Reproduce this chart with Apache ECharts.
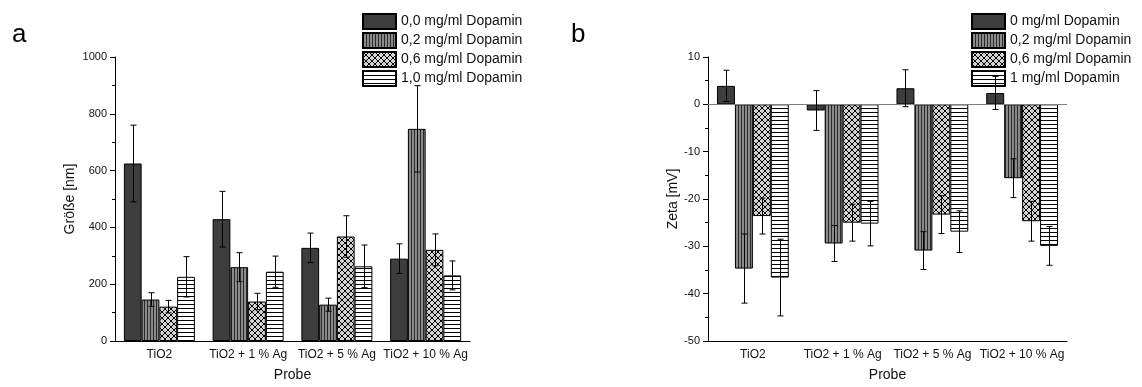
<!DOCTYPE html>
<html>
<head>
<meta charset="utf-8">
<script src="https://cdn.jsdelivr.net/npm/echarts@6/dist/echarts.min.js"></script>
<style>
  html, body { margin: 0; padding: 0; background: #fff; }
  #chart { width: 1142px; height: 387px; }
</style>
</head>
<body>
<div id="chart"></div>
<script>
// categories (same for both panels)
const probes = ["TiO2", "TiO2 + 1 % Ag", "TiO2 + 5 % Ag", "TiO2 + 10 % Ag"];

// panel a: particle size [nm]
const sizeNames = ["0,0 mg/ml Dopamin", "0,2 mg/ml Dopamin", "0,6 mg/ml Dopamin", "1,0 mg/ml Dopamin"];
const size00 = [625, 429, 328, 290];
const size02 = [146, 260, 128, 747];
const size06 = [121, 139, 368, 321];
const size10 = [226, 244, 263, 231];
const sizeErr00 = [135, 98, 52, 52];
const sizeErr02 = [24, 51, 23, 152];
const sizeErr06 = [22, 29, 73, 56];
const sizeErr10 = [71, 55, 75, 51];

// panel b: zeta potential [mV]
const zetaNames = ["0 mg/ml Dopamin", "0,2 mg/ml Dopamin", "0,6 mg/ml Dopamin", "1 mg/ml Dopamin"];
const zeta00 = [3.9, -1.3, 3.4, 2.4];
const zeta02 = [-34.7, -29.4, -30.9, -15.6];
const zeta06 = [-23.6, -25.0, -23.3, -24.7];
const zeta10 = [-36.6, -25.2, -26.9, -29.9];
const zetaErr00 = [3.3, 4.2, 3.9, 3.5];
const zetaErr02 = [7.3, 3.8, 4.0, 4.1];
const zetaErr06 = [3.8, 3.9, 4.0, 4.2];
const zetaErr10 = [8.1, 4.7, 4.4, 4.1];

const font = "'Liberation Sans', Arial, sans-serif";

// kleine Kacheln für die Schraffuren
function tile(w, h, draw) {
    const c = document.createElement("canvas");
    c.width = w; c.height = h;
    draw(c.getContext("2d"));
    return { image: c, repeat: "repeat" };
}
const fills = [
    "#3d3d3d",
    tile(3, 1, (g) => { g.fillStyle = "#8a8a8a"; g.fillRect(0, 0, 3, 1); g.fillStyle = "#2a2a2a"; g.fillRect(0, 0, 1, 1); }),
    tile(6, 6, (g) => {
        g.fillStyle = "#d2d2d2"; g.fillRect(0, 0, 6, 6);
        g.strokeStyle = "#000"; g.lineWidth = 1;
        g.beginPath(); g.moveTo(0, 0); g.lineTo(6, 6); g.moveTo(6, 0); g.lineTo(0, 6); g.stroke();
    }),
    tile(1, 4, (g) => { g.fillStyle = "#fff"; g.fillRect(0, 0, 1, 4); g.fillStyle = "#000"; g.fillRect(0, 0, 1, 1); })
];

function barSeries(names, values, axis, extra) {
    return values.map((v, i) => Object.assign({
        name: names[i],
        type: "bar",
        xAxisIndex: axis, yAxisIndex: axis,
        data: v,
        barGap: "0%",
        barCategoryGap: "20%",
        itemStyle: { color: fills[i], borderColor: "#000", borderWidth: 1 },
        z: 2
    }, i === 0 ? extra : {}));
}

function errData(values, errs) {
    const out = [];
    values.forEach((v, s) => v.forEach((m, c) => out.push([c, m - errs[s][c], m + errs[s][c], s])));
    return out;
}

function errSeries(axis, data) {
    return {
        type: "custom",
        xAxisIndex: axis, yAxisIndex: axis,
        z: 5, silent: true,
        encode: { x: 0, y: [1, 2] },
        data: data,
        renderItem: (params, api) => {
            const c = api.value(0), s = api.value(3);
            const band = api.size([1, 0])[0];
            const bw = band * 0.8 / 4;
            const x = Math.round(api.coord([c, 0])[0] + (s - 1.5) * bw) + 0.5;
            const y1 = api.coord([c, api.value(1)])[1];
            const y2 = api.coord([c, api.value(2)])[1];
            const st = { stroke: "#000", lineWidth: 1 };
            return {
                type: "group",
                children: [
                    { type: "line", shape: { x1: x, y1: y1, x2: x, y2: y2 }, style: st },
                    { type: "line", shape: { x1: x - 3, y1: y1, x2: x + 3, y2: y1 }, style: st },
                    { type: "line", shape: { x1: x - 3, y1: y2, x2: x + 3, y2: y2 }, style: st }
                ]
            };
        }
    };
}

const axisBlack = { lineStyle: { color: "#000", width: 1 } };

function xAx(idx, hideFirst) {
    return {
        gridIndex: idx, type: "category", data: probes,
        name: "Probe", nameLocation: "middle", nameGap: 27,
        nameTextStyle: { fontSize: 14, color: "#111", fontFamily: font },
        axisLine: Object.assign({ onZero: false }, axisBlack),
        axisTick: { alignWithLabel: true, length: 5, lineStyle: { color: "#000" },
            interval: hideFirst ? (i) => i > 0 : 0 },
        axisLabel: { fontSize: 12, color: "#111", fontFamily: font, margin: 8, interval: 0 }
    };
}

function yAx(idx, name, min, max, interval, gap) {
    return {
        gridIndex: idx, type: "value", min: min, max: max, interval: interval,
        name: name, nameLocation: "middle", nameGap: gap,
        nameTextStyle: { fontSize: 14, color: "#111", fontFamily: font },
        axisLine: Object.assign({ show: true, onZero: false }, axisBlack),
        axisTick: { show: true, length: 5, lineStyle: { color: "#000" } },
        minorTick: { show: true, splitNumber: 2, length: 3, lineStyle: { color: "#000" } },
        splitLine: { show: false },
        axisLabel: { fontSize: 11, color: "#111", fontFamily: font, margin: 8, formatter: (v) => String(v) }
    };
}

function legend(left, names) {
    return {
        data: names, orient: "vertical", left: left, top: 13, padding: 0,
        icon: "rect",
        itemWidth: 33, itemHeight: 15, itemGap: 2,
        textStyle: { fontSize: 14, lineHeight: 15, color: "#111", fontFamily: font },
        selectedMode: false
    };
}

const chart = echarts.init(document.getElementById("chart"));
chart.setOption({
    animation: false,
    backgroundColor: "#fff",
    title: [
        { text: "a", left: 7, top: 17, textStyle: { fontSize: 26, fontWeight: "normal", color: "#000", fontFamily: font } },
        { text: "b", left: 566, top: 17, textStyle: { fontSize: 26, fontWeight: "normal", color: "#000", fontFamily: font } }
    ],
    legend: [legend(362, sizeNames), legend(971, zetaNames)],
    grid: [
        { left: 115, right: 672, top: 57, bottom: 44 },
        { left: 708, right: 75, top: 57, bottom: 44 }
    ],
    xAxis: [xAx(0, true), xAx(1, false)],
    yAxis: [
        yAx(0, "Größe [nm]", 0, 1000, 200, 38),
        yAx(1, "Zeta [mV]", -50, 10, 10, 28)
    ],
    series: [
        ...barSeries(sizeNames, [size00, size02, size06, size10], 0, {}),
        errSeries(0, errData([size00, size02, size06, size10], [sizeErr00, sizeErr02, sizeErr06, sizeErr10])),
        ...barSeries(zetaNames, [zeta00, zeta02, zeta06, zeta10], 1, {
            markLine: {
                silent: true, symbol: "none", label: { show: false },
                lineStyle: { color: "#808080", type: "solid", width: 1 },
                data: [{ yAxis: 0 }]
            }
        }),
        errSeries(1, errData([zeta00, zeta02, zeta06, zeta10], [zetaErr00, zetaErr02, zetaErr06, zetaErr10]))
    ]
});
</script>
</body>
</html>
